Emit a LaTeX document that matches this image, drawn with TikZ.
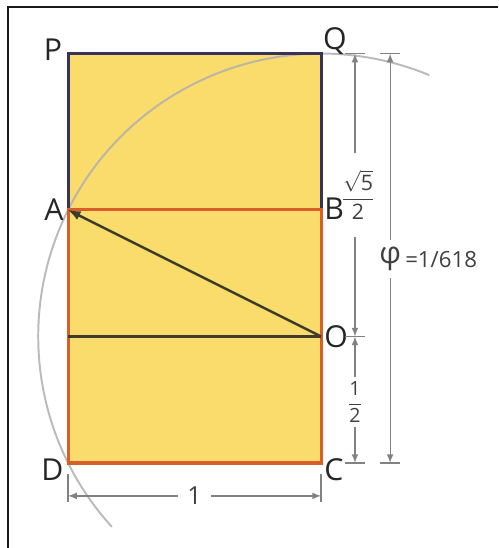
\documentclass[tikz,border=0pt]{standalone}
\usepackage{fontspec}
\setmainfont{Open Sans}
\setsansfont{Open Sans}
\usepackage{amsmath}
\usetikzlibrary{arrows,calc,positioning}
\definecolor{goldfill}{RGB}{249,220,108}
\definecolor{redline}{RGB}{214,96,40}
\definecolor{navyline}{RGB}{58,50,88}
\definecolor{darkline}{RGB}{62,60,42}
\definecolor{arcgray}{RGB}{175,175,175}
\definecolor{dimgray}{RGB}{130,130,130}
\tikzset{
  ptlabel/.style={font=\fontsize{17}{19}\selectfont,text=black!85,inner sep=1pt},
  dimline/.style={draw=dimgray,line width=.7pt},
  dimlabel/.style={text=black!75,inner sep=1pt},
}

\begin{document}
\begin{tikzpicture}[x=5cm,y=5cm,>=latex]
    \useasboundingbox (-0.269,-0.336) rectangle (1.700,1.830);
    % frame, only top and left edges show
    \coordinate (f0) at (-0.237,-0.336);
    \coordinate (f1) at (-0.237,1.802);
    \coordinate (f2) at (1.700,1.802);
    \draw[line width=1.2pt,black!90] (f0) -- (f1) -- (f2);
    % corners
    \coordinate (D) at (0,0);
    \coordinate (C) at (1,0);
    \coordinate (B) at (1,1);
    \coordinate (A) at (0,1);
    \coordinate (P) at (0,1.618);
    \coordinate (Q) at (1,1.618);
    \coordinate (O) at (1,.5);
    \coordinate (M) at (0,.5);
    \fill[goldfill] (D) rectangle (Q);
    % arc of the circle round O through A
    \draw[arcgray,line width=1.1pt,opacity=.85] ($(O)+(67.5:1.118)$) arc[start angle=67.5,end angle=222.3,radius=1.118];
    \draw[navyline,line width=1.7pt] (A) -- (P) -- (Q) -- (B);
    \draw[redline,line width=1.7pt] (A) -- (B) -- (C) -- (D) -- cycle;
    \draw[darkline,line width=1.2pt] (M) -- (O);
    \draw[darkline,line width=1.4pt,->] (O) -- (A);
    % point labels
    \node[ptlabel] (lP) at ($(P)+(-0.015,0.015)$) [left] {P};
    \node[ptlabel] (lQ) at ($(Q)+(0,-0.012)$) [above right] {Q};
    \node[ptlabel] (lA) at ($(A)+(-0.01,0)$) [left] {A};
    \node[ptlabel] (lB) at ($(B)+(0.005,0.005)$) [right] {B};
    \node[ptlabel] (lO) at ($(O)+(0.005,0)$) [right] {O};
    \node[ptlabel] (lC) at ($(C)+(0.005,-0.028)$) [right] {C};
    \node[ptlabel] (lD) at ($(D)+(-0.01,-0.025)$) [left] {D};
    % dimension sqrt5/2 and 1/2
    \coordinate (s1) at (1.134,1.618);
    \coordinate (s2) at (1.134,.5);
    \coordinate (s3) at (1.134,0);
    \node[dimlabel] (sqlbl) at (1.146,1.06) {\fontsize{12}{14}\selectfont$\dfrac{\sqrt{\mathsf{5}}}{\mathsf{2}}$};
    \node[dimlabel] (halflbl) at (1.134,.241) {\fontsize{11}{13}\selectfont$\dfrac{\mathsf{1}}{\mathsf{2}}$};
    \draw[dimline,->] (sqlbl.north) ++(-.012,.06) -- (s1);
    \draw[dimline,->] (sqlbl.south) ++(-.012,-.06) -- (s2);
    \draw[dimline,->] (halflbl.north) ++(0,.01) -- (s2);
    \draw[dimline,->] (halflbl.south) ++(0,-.01) -- (s3);
    % dimension phi
    \coordinate (p1) at (1.273,1.618);
    \coordinate (p3) at (1.273,0);
    \node[dimlabel,font=\fontsize{17}{19}\selectfont] (philbl) at (1.273,.805) {φ};
    \node[dimlabel,font=\fontsize{12.5}{14}\selectfont,right=0pt of philbl] (phival) {=1/618};
    \draw[dimline,->] (philbl.north) ++(0,.02) -- (p1);
    \draw[dimline,->] (philbl.south) ++(0,-.02) -- (p3);
    % ticks
    \draw[dimline] ($(s1)+(-.04,0)$) -- ($(s1)+(.04,0)$);
    \draw[dimline] ($(p1)+(-.04,0)$) -- ($(p1)+(.04,0)$);
    \draw[dimline] ($(s2)+(-.04,0)$) -- ($(s2)+(.04,0)$);
    \draw[dimline] ($(s3)+(-.04,0)$) -- ($(s3)+(.04,0)$);
    \draw[dimline] ($(p3)+(-.04,0)$) -- ($(p3)+(.04,0)$);
    % dimension 1
    \coordinate (d1) at (0,-.130);
    \coordinate (d2) at (1,-.130);
    \node[dimlabel,font=\fontsize{14}{16}\selectfont] (onelbl) at (.5,-.130) {1};
    \draw[dimline,->] (onelbl.west) ++(-.03,0) -- (d1);
    \draw[dimline,->] (onelbl.east) ++(.03,0) -- (d2);
    \draw[dimline] ($(D)+(0,-.045)$) -- ($(D)+(0,-.155)$);
    \draw[dimline] ($(C)+(0,-.045)$) -- ($(C)+(0,-.155)$);
\end{tikzpicture}
\end{document}
